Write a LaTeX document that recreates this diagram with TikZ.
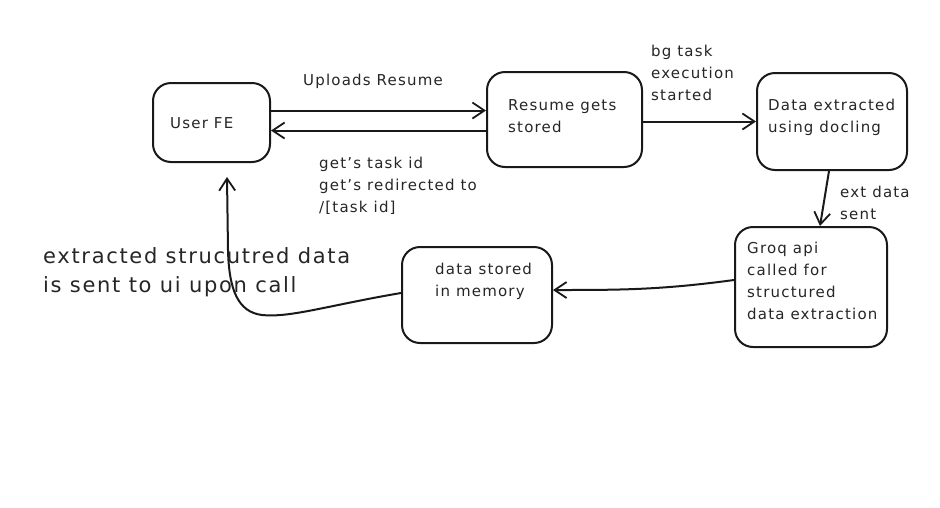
\documentclass[tikz,border=0pt]{standalone}
\usepackage{fontspec}
\setmainfont{DejaVu Sans}[LetterSpace=8]
\usetikzlibrary{arrows.meta}
\tikzset{
  box/.style={draw=black!90, line width=2pt, rounded corners=18pt, inner sep=0pt},
  lbl/.style={anchor=west, align=left, inner sep=0pt, font=\fontsize{15}{22}\selectfont, text=black!85},
  big/.style={anchor=west, align=left, inner sep=0pt, font=\fontsize{21}{29}\selectfont, text=black!85},
  arr/.style={draw=black!90, line width=2pt, -{Straight Barb[length=12pt,width=16pt,line width=1.8pt]}},
}
\begin{document}
\begin{tikzpicture}[x=1pt,y=-1pt]
\useasboundingbox[fill=white] (0,0) rectangle (940,507);
% boxes
\node[box, minimum width=117pt, minimum height=79pt] (fe) at (211.5,122.5) {};
\node[box, minimum width=155pt, minimum height=95pt] (rs) at (564.5,119.5) {};
\node[box, minimum width=150pt, minimum height=97pt] (de) at (832,121.5) {};
\node[box, minimum width=152pt, minimum height=120pt] (gq) at (811,287) {};
\node[box, minimum width=150pt, minimum height=96pt] (ds) at (477,295) {};
% box texts
\node[lbl] (tfe) at (170,123) {User FE};
\node[lbl] (trs) at (508,116) {Resume gets\\stored};
\node[lbl] (tde) at (768,117.5) {Data extracted\\using docling};
\node[lbl] (tgq) at (747,281) {Groq api\\called for\\structured\\data extraction};
\node[lbl] (tds) at (435,281) {data stored\\in memory};
% connectors
\draw[arr] ([yshift=12pt]fe.east) -- ([yshift=12pt]fe.east -| rs.west);
\draw[arr] ([yshift=-11pt]rs.west) -- ([yshift=-11pt]rs.west -| fe.east);
\draw[arr] ([yshift=-2pt]rs.east) -- ([yshift=-2pt]rs.east -| de.west);
\draw[arr] ([xshift=-3pt]de.south) -- ([xshift=9pt]gq.north);
\draw[arr] ([yshift=7pt]gq.west) .. controls (660,290) and (620,290) .. ([yshift=5pt]ds.east);
\coordinate (tip) at ([xshift=15.5pt,yshift=-14pt]fe.south);
\draw[arr] ([yshift=2pt]ds.west) .. controls (330,305) and (290,318) .. (262,315)
  .. controls (238,312) and (229,290) .. (228,250) -- (tip);
% connector labels
\node[lbl] (lup) at (303,81) {Uploads Resume};
\node[lbl] (ltask) at (319,186) {get's task id\\get's redirected to\\/[task id]};
\node[lbl] (lbg) at (651,73) {bg task\\execution\\started};
\node[lbl] (lext) at (840,202.5) {ext data\\sent};
\node[big] (lbig) at (43,272.5) {extracted strucutred data\\is sent to ui upon call};
\end{tikzpicture}
\end{document}
